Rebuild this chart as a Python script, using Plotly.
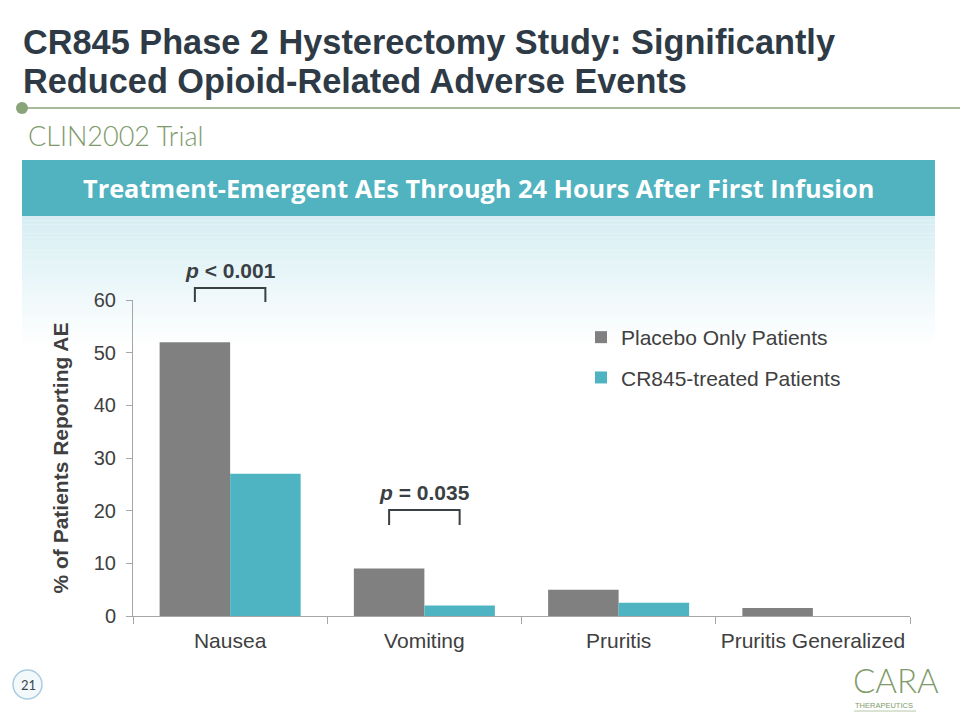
import plotly.graph_objects as go

categories = ["Nausea", "Vomiting", "Pruritis", "Pruritis Generalized"]
placebo = [52, 9, 5, 1.5]
cr845 = [27, 2, 2.5, 0]
series_names = ["Placebo Only Patients", "CR845-treated Patients"]
y_ticks = [0, 10, 20, 30, 40, 50, 60]
p_labels = ["<i>p</i> < 0.001", "<i>p</i> = 0.035"]
p_index = [0, 1]

W, H = 960, 720
L, R, T, B = 133, 50, 300, 104
BARGAP = 0.274

fig = go.Figure()
fig.add_trace(go.Bar(x=categories, y=placebo, name=series_names[0],
                     marker=dict(color="#808080", line=dict(width=0)),
                     legendgroup="a"))
fig.add_trace(go.Bar(x=categories, y=cr845, name=series_names[1],
                     marker=dict(color="#4fb4c1", line=dict(width=0)),
                     legendgroup="b"))


def px_x(x):
    return (x - L) / (W - L - R)


def px_y(y):
    return (H - B - y) / (H - T - B)


shapes = []
# gradient band below header
n = 30
top, bot = 216, 345
for i in range(n):
    y0 = top + (bot - top) * i / n
    y1 = top + (bot - top) * (i + 1) / n
    a = 1 - i / n
    shapes.append(dict(type="rect", xref="paper", yref="paper",
                       x0=px_x(22), x1=px_x(935),
                       y0=px_y(y1), y1=px_y(y0),
                       fillcolor=f"rgba(214,238,243,{a:.3f})", line=dict(width=0),
                       layer="below"))

# header banner
shapes.append(dict(type="rect", xref="paper", yref="paper",
                   x0=px_x(22), x1=px_x(935), y0=px_y(216), y1=px_y(160),
                   fillcolor="#50b3bf", line=dict(width=0), layer="below"))
# title rule
shapes.append(dict(type="line", xref="paper", yref="paper",
                   x0=px_x(22), x1=px_x(960), y0=px_y(108), y1=px_y(108),
                   line=dict(color="#8aa47a", width=1.5)))
shapes.append(dict(type="circle", xref="paper", yref="paper",
                   x0=px_x(16), x1=px_x(28), y0=px_y(102), y1=px_y(114),
                   fillcolor="#8aa47a", line=dict(width=0)))
# page number circle
shapes.append(dict(type="circle", xref="paper", yref="paper",
                   x0=px_x(13), x1=px_x(42), y0=px_y(670), y1=px_y(699),
                   fillcolor="#f3f8fb", line=dict(color="#a9cde0", width=1.5)))
# logo underline
shapes.append(dict(type="line", xref="paper", yref="paper",
                   x0=px_x(854), x1=px_x(916), y0=px_y(711), y1=px_y(711),
                   line=dict(color="#b4c6a8", width=1)))

# significance brackets
off = (1 - BARGAP) / 4
for k, idx in enumerate(p_index):
    xa = idx - off
    xb = idx + off
    ytop = [288, 510][k]
    ybot = [302, 525][k]
    path = (f"M{xa},{px_y(ybot)} L{xa},{px_y(ytop)} L{xb},{px_y(ytop)} L{xb},{px_y(ybot)}")
    shapes.append(dict(type="path", xref="x", yref="paper", path=path,
                       line=dict(color="#3a3f44", width=2)))

annotations = []
for k, idx in enumerate(p_index):
    annotations.append(dict(x=idx, xref="x", y=px_y([270, 492][k]), yref="paper",
                            text=f"<b>{p_labels[k]}</b>", showarrow=False,
                            font=dict(family="Liberation Sans", size=21, color="#3a3f44"),
                            xanchor="center", yanchor="middle"))

annotations += [
    dict(x=px_x(21), y=px_y(41.5), xref="paper", yref="paper", xanchor="left", yanchor="middle",
         text="<b>CR845 Phase 2 Hysterectomy Study: Significantly</b>", showarrow=False,
         font=dict(family="Liberation Sans", size=34.3, color="#2e3a45")),
    dict(x=px_x(21), y=px_y(80.5), xref="paper", yref="paper", xanchor="left", yanchor="middle",
         text="<b>Reduced Opioid-Related Adverse Events</b>", showarrow=False,
         font=dict(family="Liberation Sans", size=34.3, color="#2e3a45")),
    dict(x=px_x(26), y=px_y(135), xref="paper", yref="paper", xanchor="left", yanchor="middle",
         text="CLIN2002 Trial", showarrow=False,
         font=dict(family="Lato", size=27, color="#7e9a6c", weight=300)),
    dict(x=px_x(478), y=px_y(188), xref="paper", yref="paper", xanchor="center", yanchor="middle",
         text="<b>Treatment-Emergent AEs Through 24 Hours After First Infusion</b>", showarrow=False,
         font=dict(family="Open Sans", size=25.3, color="#ffffff")),
    dict(x=px_x(28), y=px_y(685), xref="paper", yref="paper", xanchor="center", yanchor="middle",
         text="21", showarrow=False,
         font=dict(family="Lato", size=13, color="#3a4550")),
    dict(x=px_x(896), y=px_y(680), xref="paper", yref="paper", xanchor="center", yanchor="middle",
         text="CARA", showarrow=False,
         font=dict(family="Lato", size=33, color="#7f9b6b", weight=300)),
    dict(x=px_x(884), y=px_y(705.5), xref="paper", yref="paper", xanchor="center", yanchor="middle",
         text="THERAPEUTICS", showarrow=False,
         font=dict(family="Liberation Sans", size=7.5, color="#7f9b6b")),
]

fig.update_layout(
    width=W, height=H,
    margin=dict(l=L, r=R, t=T, b=B, pad=0),
    paper_bgcolor="white", plot_bgcolor="rgba(0,0,0,0)",
    barmode="group", bargap=BARGAP, bargroupgap=0,
    shapes=shapes, annotations=annotations,
    font=dict(family="Liberation Sans", color="#404040"),
    legend=dict(x=px_x(581), y=px_y(317), xanchor="left", yanchor="top",
                bgcolor="rgba(0,0,0,0)", font=dict(size=21, color="#404040"),
                tracegroupgap=10, traceorder="grouped", itemwidth=30),
    xaxis=dict(type="category", range=[-0.5, 3.5], showline=True, linecolor="#a6a6a6",
               linewidth=1, ticks="outside", tickson="boundaries", ticklen=7,
               tickcolor="#a6a6a6", tickfont=dict(size=21, color="#404040"),
               ticklabelstandoff=6, showgrid=False, zeroline=False),
    yaxis=dict(range=[0, 60], tickvals=y_ticks, showline=True, linecolor="#a6a6a6",
               linewidth=1, ticks="outside", ticklen=6, tickcolor="#a6a6a6",
               tickfont=dict(size=20, color="#404040"), ticklabelstandoff=6,
               showgrid=False, zeroline=False,
               title=dict(text="<b>% of Patients Reporting AE</b>", standoff=19,
                          font=dict(size=21, color="#404040"))),
    showlegend=True,
)

fig.write_html("out.html", config={"displayModeBar": False},
               post_script="document.body.style.margin='0';")
